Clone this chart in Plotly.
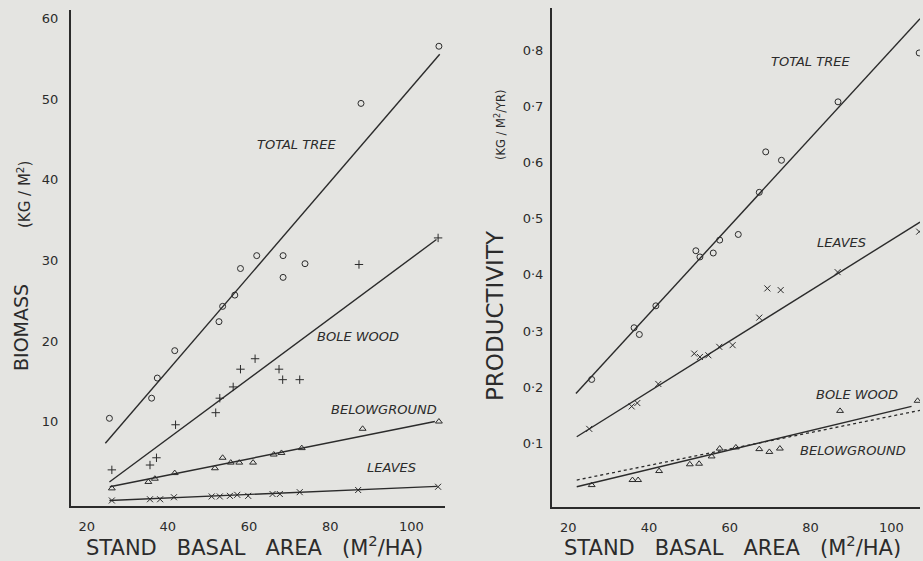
import plotly.graph_objects as go

# ---------------- data ----------------
# Left panel: biomass (kg/m2) vs stand basal area (m2/ha)
BA_TT_L = [25.6, 36.0, 37.4, 41.7, 52.6, 53.5, 56.5, 57.9, 61.9, 68.4, 68.4, 73.8, 87.6, 106.8]
TT_L = [10.4, 12.9, 15.4, 18.8, 22.4, 24.3, 25.7, 29.0, 30.6, 30.6, 27.9, 29.6, 49.5, 56.6]
BA_BW_L = [26.2, 35.6, 37.2, 41.9, 51.8, 52.8, 56.1, 57.9, 61.5, 67.4, 68.3, 72.5, 87.1, 106.6]
BW_L = [4.0, 4.6, 5.5, 9.6, 11.1, 12.9, 14.3, 16.5, 17.8, 16.5, 15.2, 15.2, 29.5, 32.8]
BA_BG_L = [26.2, 35.2, 36.8, 41.7, 51.6, 53.5, 55.5, 57.6, 61.0, 66.1, 68.0, 73.0, 88.0, 106.8]
BG_L = [1.7, 2.5, 2.9, 3.6, 4.2, 5.5, 4.9, 4.9, 4.9, 5.9, 6.1, 6.7, 9.1, 10.0]
BA_LV_L = [26.2, 35.6, 38.1, 41.5, 50.8, 52.8, 55.3, 57.1, 59.8, 65.8, 67.6, 72.5, 86.9, 106.6]
LV_L = [0.2, 0.35, 0.35, 0.6, 0.7, 0.7, 0.77, 0.9, 0.77, 1.0, 1.0, 1.23, 1.5, 1.9]

# regression lines, left panel (end points)
FIT_TT_L_X = [24.6, 107.0]; FIT_TT_L_Y = [7.3, 55.6]
FIT_BW_L_X = [25.6, 106.2]; FIT_BW_L_Y = [2.5, 32.6]
FIT_BG_L_X = [25.7, 105.8]; FIT_BG_L_Y = [1.9, 10.0]
FIT_LV_L_X = [25.6, 106.3]; FIT_LV_L_Y = [0.2, 1.95]

# Right panel: productivity (kg/m2/yr) vs stand basal area
BA_TT_R = [25.8, 36.3, 37.6, 41.7, 51.6, 52.6, 55.9, 57.5, 62.1, 67.3, 68.9, 72.8, 86.8, 106.9]
TT_R = [0.214, 0.306, 0.294, 0.345, 0.443, 0.432, 0.439, 0.462, 0.472, 0.547, 0.619, 0.604, 0.708, 0.795]
BA_LV_R = [25.2, 35.7, 37.1, 42.3, 51.2, 52.6, 54.7, 57.4, 60.7, 67.3, 69.3, 72.6, 86.7, 106.9]
LV_R = [0.126, 0.166, 0.172, 0.206, 0.260, 0.254, 0.257, 0.272, 0.275, 0.324, 0.376, 0.373, 0.405, 0.477]
BA_BW_R = [25.8, 35.9, 37.3, 42.5, 50.1, 52.4, 55.5, 57.5, 61.5, 67.3, 69.8, 72.4, 87.3, 106.5]
BW_R = [0.026, 0.035, 0.035, 0.051, 0.063, 0.064, 0.077, 0.091, 0.093, 0.090, 0.085, 0.091, 0.158, 0.176]

FIT_TT_R_X = [21.9, 107.1]; FIT_TT_R_Y = [0.189, 0.856]
FIT_LV_R_X = [22.1, 107.1]; FIT_LV_R_Y = [0.112, 0.494]
FIT_BW_R_X = [22.1, 105.0]; FIT_BW_R_Y = [0.023, 0.166]
FIT_BG_R_X = [22.1, 107.1]; FIT_BG_R_Y = [0.035, 0.159]

X_TICKS = [20, 40, 60, 80, 100]
Y_TICKS_L = [10, 20, 30, 40, 50, 60]
Y_TICKS_R = [0.1, 0.2, 0.3, 0.4, 0.5, 0.6, 0.7, 0.8]
Y_TICKTEXT_R = ["0·1", "0·2", "0·3", "0·4", "0·5", "0·6", "0·7", "0·8"]

LABELS_L = [("TOTAL TREE", 71.7, 44.4), ("BOLE WOOD", 86.9, 20.6),
            ("BELOWGROUND", 93.2, 11.5), ("LEAVES", 95.1, 4.3)]
LABELS_R = [("TOTAL TREE", 80.0, 0.779), ("LEAVES", 87.7, 0.457),
            ("BOLE WOOD", 91.4, 0.188), ("BELOWGROUND", 90.5, 0.087)]

# ---------------- styling ----------------
INK = "#2b2b2b"
PAPER = "#e4e4e1"
FONT = "DejaVu Sans"

fig = go.Figure()

def pts(x, y, sym, size, xa, ya):
    fig.add_trace(go.Scatter(x=x, y=y, mode="markers", xaxis=xa, yaxis=ya,
                             marker=dict(symbol=sym, size=size, color=INK,
                                         line=dict(color=INK, width=1)),
                             showlegend=False, hoverinfo="skip"))

def fit(x, y, xa, ya, dash="solid", width=1.4):
    fig.add_trace(go.Scatter(x=x, y=y, mode="lines", xaxis=xa, yaxis=ya,
                             line=dict(color=INK, width=width, dash=dash),
                             showlegend=False, hoverinfo="skip"))

# left panel
fit(FIT_TT_L_X, FIT_TT_L_Y, "x", "y")
fit(FIT_BW_L_X, FIT_BW_L_Y, "x", "y")
fit(FIT_BG_L_X, FIT_BG_L_Y, "x", "y")
fit(FIT_LV_L_X, FIT_LV_L_Y, "x", "y")
pts(BA_TT_L, TT_L, "circle-open", 6, "x", "y")
pts(BA_BW_L, BW_L, "cross-thin-open", 6, "x", "y")
pts(BA_BG_L, BG_L, "triangle-up-open", 6, "x", "y")
pts(BA_LV_L, LV_L, "x-thin-open", 6, "x", "y")

# right panel
fit(FIT_TT_R_X, FIT_TT_R_Y, "x2", "y2")
fit(FIT_LV_R_X, FIT_LV_R_Y, "x2", "y2")
fit(FIT_BW_R_X, FIT_BW_R_Y, "x2", "y2")
fit(FIT_BG_R_X, FIT_BG_R_Y, "x2", "y2", dash="dot", width=1.3)
pts(BA_TT_R, TT_R, "circle-open", 6, "x2", "y2")
pts(BA_LV_R, LV_R, "x-thin-open", 6, "x2", "y2")
pts(BA_BW_R, BW_R, "triangle-up-open", 6, "x2", "y2")

axis_common = dict(showline=True, linecolor=INK, linewidth=1.5, showgrid=False,
                   zeroline=False, ticks="", mirror=False,
                   tickfont=dict(family=FONT, size=13, color=INK))

W, H = 923, 561
fig.update_layout(
    width=W, height=H, margin=dict(l=0, r=0, t=0, b=0),
    paper_bgcolor=PAPER, plot_bgcolor=PAPER,
    xaxis=dict(domain=[70.7 / W, 445 / W], range=[16.06, 108.3], anchor="y",
               tickvals=X_TICKS, ticklabelstandoff=8, **axis_common),
    yaxis=dict(domain=[1 - 505.7 / H, 1 - 10 / H], range=[-0.45, 61.1], anchor="x",
               tickvals=Y_TICKS_L, ticklabelstandoff=8, **axis_common),
    xaxis2=dict(domain=[551.7 / W, 920 / W], range=[15.9, 107.1], anchor="y2",
                tickvals=X_TICKS, ticklabelstandoff=8, **axis_common),
    yaxis2=dict(domain=[1 - 507 / H, 1 - 8 / H], range=[-0.013, 0.875], anchor="x2",
                tickvals=Y_TICKS_R, ticktext=Y_TICKTEXT_R, ticklabelstandoff=4,
                **axis_common),
)

ann = []
for txt, x, y in LABELS_L:
    ann.append(dict(text="<i>" + txt + "</i>", x=x, y=y, xref="x", yref="y",
                    showarrow=False, font=dict(family=FONT, size=13, color=INK)))
for txt, x, y in LABELS_R:
    ann.append(dict(text="<i>" + txt + "</i>", x=x, y=y, xref="x2", yref="y2",
                    showarrow=False, font=dict(family=FONT, size=13, color=INK)))

sp = "&nbsp;&nbsp;&nbsp;"
xtitle = "STAND" + sp + "BASAL" + sp + "AREA" + sp + "(M<sup>2</sup>/HA)"
for cx in (254, 732):
    ann.append(dict(text=xtitle, x=cx / W, y=1 - 546 / H, xref="paper", yref="paper",
                    showarrow=False, xanchor="center", yanchor="middle",
                    font=dict(family=FONT, size=21, color=INK)))

# y titles
ann.append(dict(text="BIOMASS", x=21 / W, y=1 - 328 / H, xref="paper", yref="paper",
                textangle=-90, showarrow=False, xanchor="center", yanchor="middle",
                font=dict(family=FONT, size=19, color=INK)))
ann.append(dict(text="(KG / M<sup>2</sup>)", x=24 / W, y=1 - 195 / H, xref="paper",
                yref="paper", textangle=-90, showarrow=False, xanchor="center",
                yanchor="middle", font=dict(family=FONT, size=15, color=INK)))
ann.append(dict(text="PRODUCTIVITY", x=495 / W, y=1 - 315 / H, xref="paper",
                yref="paper", textangle=-90, showarrow=False, xanchor="center",
                yanchor="middle", font=dict(family=FONT, size=23, color=INK)))
ann.append(dict(text="(KG / M<sup>2</sup>/YR)", x=501 / W, y=1 - 125 / H, xref="paper",
                yref="paper", textangle=-90, showarrow=False, xanchor="center",
                yanchor="middle", font=dict(family=FONT, size=11.5, color=INK)))

fig.update_layout(annotations=ann)
fig.write_html("out.html",
               config={"displayModeBar": False},
               post_script="document.body.style.margin='0px';"
                           "document.body.style.background='" + PAPER + "';")
